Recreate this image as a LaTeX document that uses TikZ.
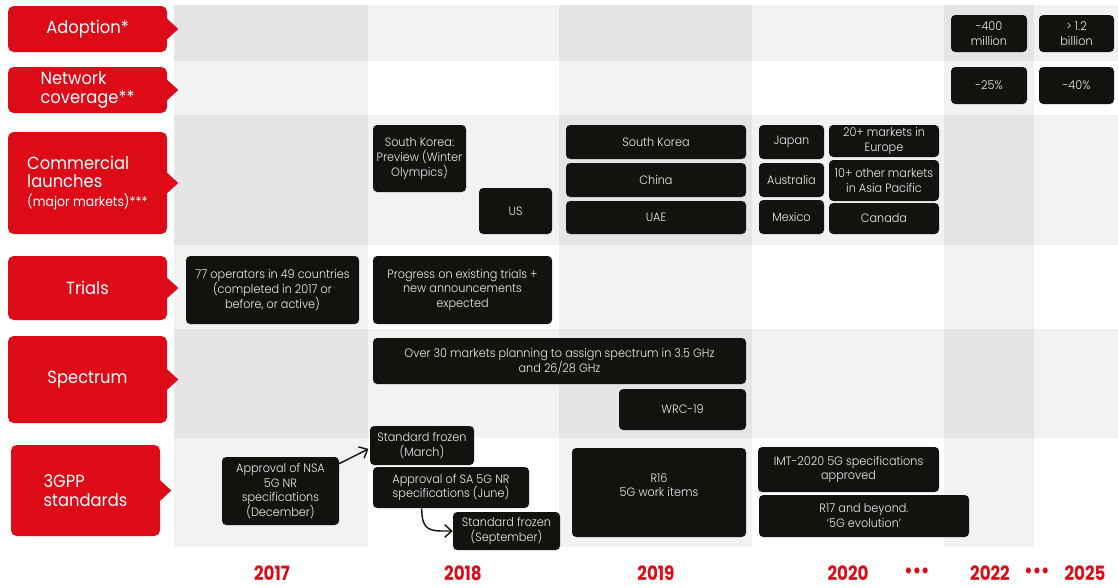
\documentclass[tikz,border=0pt]{standalone}
\usepackage{fontspec}
\usetikzlibrary{arrows.meta,calc}
\setmainfont{Poppins}[FakeStretch=0.93]
\IfFontExistsTF{Poppins Light}{\newfontfamily\boxfont{Poppins Light}[FakeStretch=0.93]}{\newfontfamily\boxfont{Poppins}[FakeStretch=0.93]}
\newfontfamily\yearfont{Poppins}[FakeStretch=0.85]
\definecolor{labred}{HTML}{DC0B17}
\definecolor{boxblack}{HTML}{13120F}
\definecolor{boxtext}{HTML}{EDEDED}
\definecolor{gridlight}{HTML}{F2F2F2}
\definecolor{griddark}{HTML}{E5E5E8}
\begin{document}
\begin{tikzpicture}[x=0.025cm, y=-0.025cm,
    wh/.style 2 args={minimum width=#1*0.025cm, minimum height=#2*0.025cm},
    lab/.style={fill=labred, rounded corners=4pt, text=white, align=left, inner sep=0pt,
        font=\fontsize{12.5}{13}\selectfont},
    blk/.style={fill=boxblack, rounded corners=3pt, text=boxtext, align=center, inner sep=0pt,
        font=\boxfont\fontsize{8.6}{10.6}\selectfont},
    yr/.style={text=labred, inner sep=0pt, font=\yearfont\bfseries\fontsize{14}{14}\selectfont},
    con/.style={-{Straight Barb[length=5pt,width=9pt]}, line width=1pt, boxblack}]
    \useasboundingbox (0,0) rectangle (1118,587);
    \fill[white] (0,0) rectangle (1118,587);

    \foreach \ya/\yb in {5/61,115/245,329/438}
        \fill[gridlight] (174,\ya) rectangle (1118,\yb);
    \foreach \xa/\xb in {174/368,559/752,944/1034}
        \fill[gridlight] (\xa,5) rectangle (\xb,547);
    \foreach \xa/\xb in {174/368,559/752,944/1034}
        \foreach \ya/\yb in {5/61,115/245,329/438}
            \fill[griddark] (\xa,\ya) rectangle (\xb,\yb);

    \node[lab, wh={159}{46}] (adopt) at (87.5,29) {Adoption*};
    \node[lab, wh={159}{46}] (netw) at (87.5,90) {Network\\coverage**};
    \node[lab, wh={159}{102}] (comm) at (87.5,183) {Commercial\\launches\\{\fontsize{9.5}{11}\selectfont(major markets)***}};
    \node[lab, wh={159}{64}] (trials) at (87.5,288) {Trials};
    \node[lab, wh={159}{87}] (spec) at (87.5,379.5) {Spectrum};
    \node[lab, wh={149}{91}] (gpp) at (85.5,490.5) {3GPP\\standards};
    \foreach \n in {adopt,netw,comm,trials,spec,gpp}
        \fill[labred] (\n.east) ++(-1,-11) -- ++(12,11) -- ++(-12,11) -- cycle;

    \node[blk, wh={76}{37}] (ad22) at (989,33.5) {-400\\million};
    \node[blk, wh={75}{37}] (ad25) at (1076.5,33.5) {> 1.2\\billion};
    \node[blk, wh={76}{37}] (nw22) at (989,85.5) {-25\%};
    \node[blk, wh={75}{37}] (nw25) at (1076.5,85.5) {-40\%};

    \node[blk, wh={93}{67}] (skprev) at (419.5,158.5) {South Korea:\\Preview (Winter\\Olympics)};
    \node[blk, wh={73}{46}] (us) at (515.5,211) {US};
    \node[blk, wh={180}{34}] (skorea) at (656,142) {South Korea};
    \node[blk, wh={180}{34}] (china) at (656,180) {China};
    \node[blk, wh={180}{33}] (uae) at (656,217.5) {UAE};
    \node[blk, wh={65}{34}] (japan) at (791.5,142) {Japan};
    \node[blk, wh={110}{32}] (europe) at (884,141) {20+ markets in\\Europe};
    \node[blk, wh={65}{34}] (austr) at (791.5,180) {Australia};
    \node[blk, wh={110}{41}] (asiapac) at (884,180.5) {10+ other markets\\in Asia Pacific};
    \node[blk, wh={65}{34}] (mexico) at (791.5,217) {Mexico};
    \node[blk, wh={110}{31}] (canada) at (884,218.5) {Canada};

    \node[blk, wh={173}{68}] (tr17) at (272.5,290) {77 operators in 49 countries\\(completed in 2017 or\\before, or active)};
    \node[blk, wh={179}{68}] (tr18) at (462.5,290) {Progress on existing trials +\\new announcements\\expected};

    \node[blk, wh={373}{46}] (assign) at (559.5,361) {Over 30 markets planning to assign spectrum in 3.5 GHz\\and 26/28 GHz};
    \node[blk, wh={127}{41}] (wrc) at (682.5,409.5) {WRC-19};

    \node[blk, wh={117}{68}] (nsa) at (280.5,491) {Approval of NSA\\5G NR\\specifications\\(December)};
    \node[blk, wh={104}{39}] (march) at (422,445.5) {Standard frozen\\(March)};
    \node[blk, wh={156}{41}] (sa) at (451,487.5) {Approval of SA 5G NR\\specifications (June)};
    \node[blk, wh={107}{38}] (sept) at (506.5,531) {Standard frozen\\(September)};
    \node[blk, wh={174}{89}] (rel16) at (659,492.5) {R16\\5G work items\\\mbox{}};
    \node[blk, wh={181}{45}] (imt) at (848.5,469.5) {IMT-2020 5G specifications\\approved};
    \node[blk, wh={210}{42}] (rel17) at (864,516) {R17 and beyond.\\‘5G evolution’};

    \draw[con, shorten >=1pt] (nsa.25) -- (march.183);
    \draw[con] ($(sa.south west)+(49,0)$) .. controls +(0,24) and +(-22,0) .. (sept.west);

    \node[yr] (y17) at (272,573) {2017};
    \node[yr] (y18) at (463,573) {2018};
    \node[yr] (y19) at (656,573) {2019};
    \node[yr] (y20) at (848,573) {2020};
    \node[yr] (dots1) at (917,573) {•••};
    \node[yr] (y22) at (990,573) {2022};
    \node[yr] (dots2) at (1037,573) {•••};
    \node[yr] (y25) at (1085,573) {2025};
\end{tikzpicture}
\end{document}
